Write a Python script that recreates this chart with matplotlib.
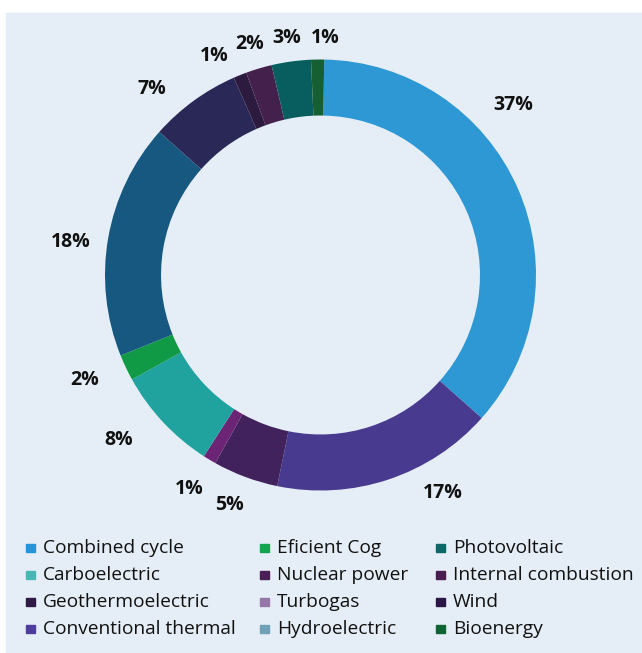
import numpy as np
import matplotlib as mpl
import matplotlib.pyplot as plt
from matplotlib.patches import Rectangle

# --- data (share of total, %) ----------------------------------------------
# slices in clockwise order starting at 12 o'clock
slice_names = ["Combined cycle", "Conventional thermal", "Nuclear power",
               "Turbogas", "Carboelectric", "Eficient Cog", "Hydroelectric",
               "Wind", "Geothermoelectric", "Internal combustion",
               "Photovoltaic", "Bioenergy"]
shares = [37, 17, 5, 1, 8, 2, 18, 7, 1, 2, 3, 1]

# legend, read row by row
legend_names = ["Combined cycle", "Eficient Cog", "Photovoltaic",
                "Carboelectric", "Nuclear power", "Internal combustion",
                "Geothermoelectric", "Turbogas", "Wind",
                "Conventional thermal", "Hydroelectric", "Bioenergy"]

# --- style ---------------------------------------------------------------
BG = "#e5eef6"
INK = "#111111"
slice_colors = {
    "Combined cycle": "#2e98d5", "Conventional thermal": "#483a8f",
    "Nuclear power": "#42225c", "Turbogas": "#6c2474",
    "Carboelectric": "#20a39e", "Eficient Cog": "#119a45",
    "Hydroelectric": "#175880", "Wind": "#2a2856",
    "Geothermoelectric": "#2c1b3f", "Internal combustion": "#44204c",
    "Photovoltaic": "#085e5f", "Bioenergy": "#155f33",
}
swatch_colors = {
    "Combined cycle": "#2196dc", "Eficient Cog": "#16a24e",
    "Photovoltaic": "#0c6866", "Carboelectric": "#49b7b3",
    "Nuclear power": "#4a1f57", "Internal combustion": "#4a1d52",
    "Geothermoelectric": "#2f1a45", "Turbogas": "#9678a8",
    "Wind": "#2a1545", "Conventional thermal": "#4e3d9c",
    "Hydroelectric": "#6fa0b6", "Bioenergy": "#106434",
}
# label placement tweaks (degrees along the ring, radius in ring units)
label_nudge = [-17.7, -10.8, 1.2, 0.5, 4.0, 1.4, -2.2, -6.2, -4.0, -0.3, -0.3, 1.8]
label_r = [1.19, 1.16, 1.15, 1.165, 1.21, 1.2, 1.17, 1.165, 1.13, 1.12, 1.11, 1.10]

mpl.rcParams.update({"font.family": ["Open Sans", "DejaVu Sans"]})

W, H = 642, 653
fig = plt.figure(figsize=(W / 100, H / 100), dpi=100)
fig.patch.set_facecolor("white")
fig.patches.append(Rectangle((6 / W, 1 / H), (W - 6) / W, (H - 14) / H,
                             transform=fig.transFigure, color=BG, zorder=-5))

ax = fig.add_axes([0, 0, 1, 1])
ax.set_facecolor("none")
ax.axis("off")

cx, cy, R = 320.5, 275.0, 215.5   # pixel geometry of the ring
wedges, _ = ax.pie(shares, colors=[slice_colors[n] for n in slice_names],
                   startangle=89, counterclock=False,
                   wedgeprops=dict(width=0.26, linewidth=0))
ax.set_aspect("auto")
ax.set_xlim(-cx / R, (W - cx) / R)
ax.set_ylim(-(H - cy) / R, cy / R)

for w, v, dn, r in zip(wedges, shares, label_nudge, label_r):
    mid = np.deg2rad(0.5 * (w.theta1 + w.theta2) - dn)
    ax.text(r * np.cos(mid), r * np.sin(mid), f"{v}%", ha="center",
            va="center", fontsize=14, fontweight="bold", color=INK)

# legend, drawn as a 3 x 4 grid
col_x = [26, 260, 436]
row_y = [548, 575, 602, 629]
sq = 8.5
for i, name in enumerate(legend_names):
    x, y = col_x[i % 3], row_y[i // 3]
    fig.patches.append(Rectangle((x / W, 1 - (y + sq / 2) / H), sq / W, sq / H,
                                 transform=fig.transFigure,
                                 color=swatch_colors[name], zorder=2))
    fig.text((x + 17) / W, 1 - y / H, name, ha="left", va="center",
             fontsize=13.8, color=INK)

fig.savefig("out.png", dpi=100)
